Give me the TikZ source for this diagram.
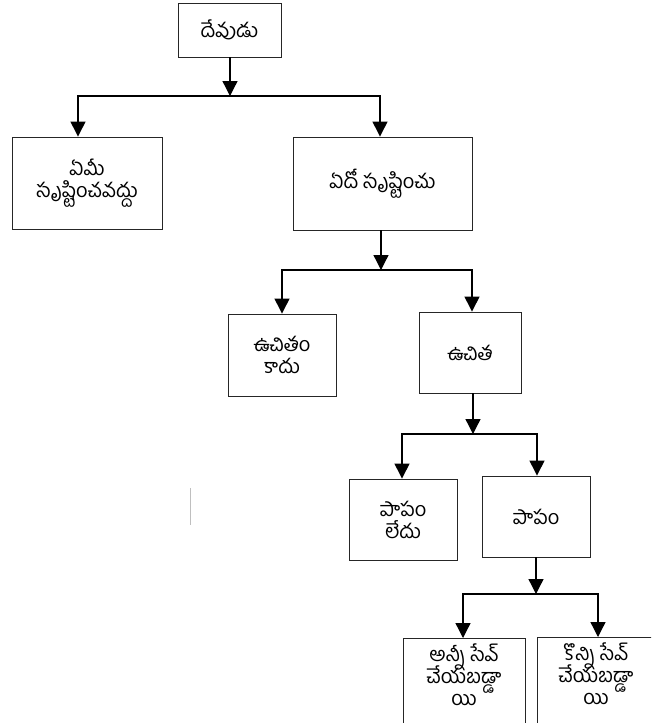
\documentclass[tikz,border=0pt]{standalone}
\usepackage{fontspec}
\newfontfamily\telugu[Script=Telugu]{Hind Guntur}
\newcommand\letratelugu{\telugu\fontsize{20}{22}\selectfont\lineskiplimit=-30pt\relax}
\newcommand\colchon{\rule[-19pt]{0pt}{1pt}}
\usetikzlibrary{arrows.meta}
\begin{document}
\begin{tikzpicture}[x=1pt, y=-1pt,
    caja/.style={draw=black!85, line width=0.9pt, align=center, inner sep=2pt,
      font=\letratelugu},
    flecha/.style={line width=1.3pt, -{Triangle[width=15pt,length=15pt]}}]
        % Marco de la figura
        \useasboundingbox (0,0) rectangle (651,723);
        \clip (0,0) rectangle (651,723);

        % Cajas del arbol
        \node[caja, minimum width=103pt, minimum height=54pt] (dios) at (229.5,30) {దేవుడు};
        \node[caja, minimum width=150pt, minimum height=92pt] (nada) at (87,183) {ఏమీ\\సృష్టించవద్దు};
        \node[caja, minimum width=179pt, minimum height=93pt] (algo) at (382.5,183.5) {ఏదో సృష్టించు};
        \node[caja, minimum width=108pt, minimum height=82pt] (nolibre) at (282,355) {ఉచితం\\కాదు};
        \node[caja, minimum width=102pt, minimum height=81pt] (libre) at (470,352.5) {ఉచిత};
        \node[caja, minimum width=108pt, minimum height=81pt] (nopecado) at (403,519.5) {పాపం\\లేదు};
        \node[caja, minimum width=108pt, minimum height=81pt] (pecado) at (536,516.5) {పాపం};
        \node[caja, anchor=north, minimum width=122pt, minimum height=92pt] (todos) at (464,638) {అన్నీ సేవ్\\చేయబడ్డా\\యి\colchon};
        \node[caja, anchor=north, minimum width=118pt, minimum height=92pt] (algunos) at (596,637) {కొన్ని సేవ్\\చేయబడ్డా\\యి\colchon};

        % Puntos de las ramas
        \coordinate (r1) at (230,96);
        \coordinate (r1i) at (78,96);
        \coordinate (r1d) at (380,96);
        \coordinate (r2) at (381,270);
        \coordinate (r2i) at (282,270);
        \coordinate (r2d) at (472,270);
        \coordinate (r3) at (473,434);
        \coordinate (r3i) at (402,434);
        \coordinate (r3d) at (537,434);
        \coordinate (r4) at (536,594);
        \coordinate (r4i) at (463,594);
        \coordinate (r4d) at (598,594);

        % Flechas
        \draw[flecha] (dios.south -| r1) -- (r1);
        \draw[flecha] (r1) -- (r1i) -- (r1i |- nada.north);
        \draw[flecha] (r1) -- (r1d) -- (r1d |- algo.north);

        \draw[flecha] (algo.south -| r2) -- (r2);
        \draw[flecha] (r2) -- (r2i) -- (r2i |- nolibre.north);
        \draw[flecha] (r2) -- (r2d) -- (r2d |- libre.north);

        \draw[flecha] (libre.south -| r3) -- (r3);
        \draw[flecha] (r3) -- (r3i) -- (r3i |- nopecado.north);
        \draw[flecha] (r3) -- (r3d) -- (r3d |- pecado.north);

        \draw[flecha] (pecado.south -| r4) -- (r4);
        \draw[flecha] (r4) -- (r4i) -- (r4i |- todos.north);
        \draw[flecha] (r4) -- (r4d) -- (r4d |- algunos.north);

        % Trazo gris suelto
        \draw[black!25, line width=0.6pt] (190,488) -- (190,525);
\end{tikzpicture}
\end{document}
